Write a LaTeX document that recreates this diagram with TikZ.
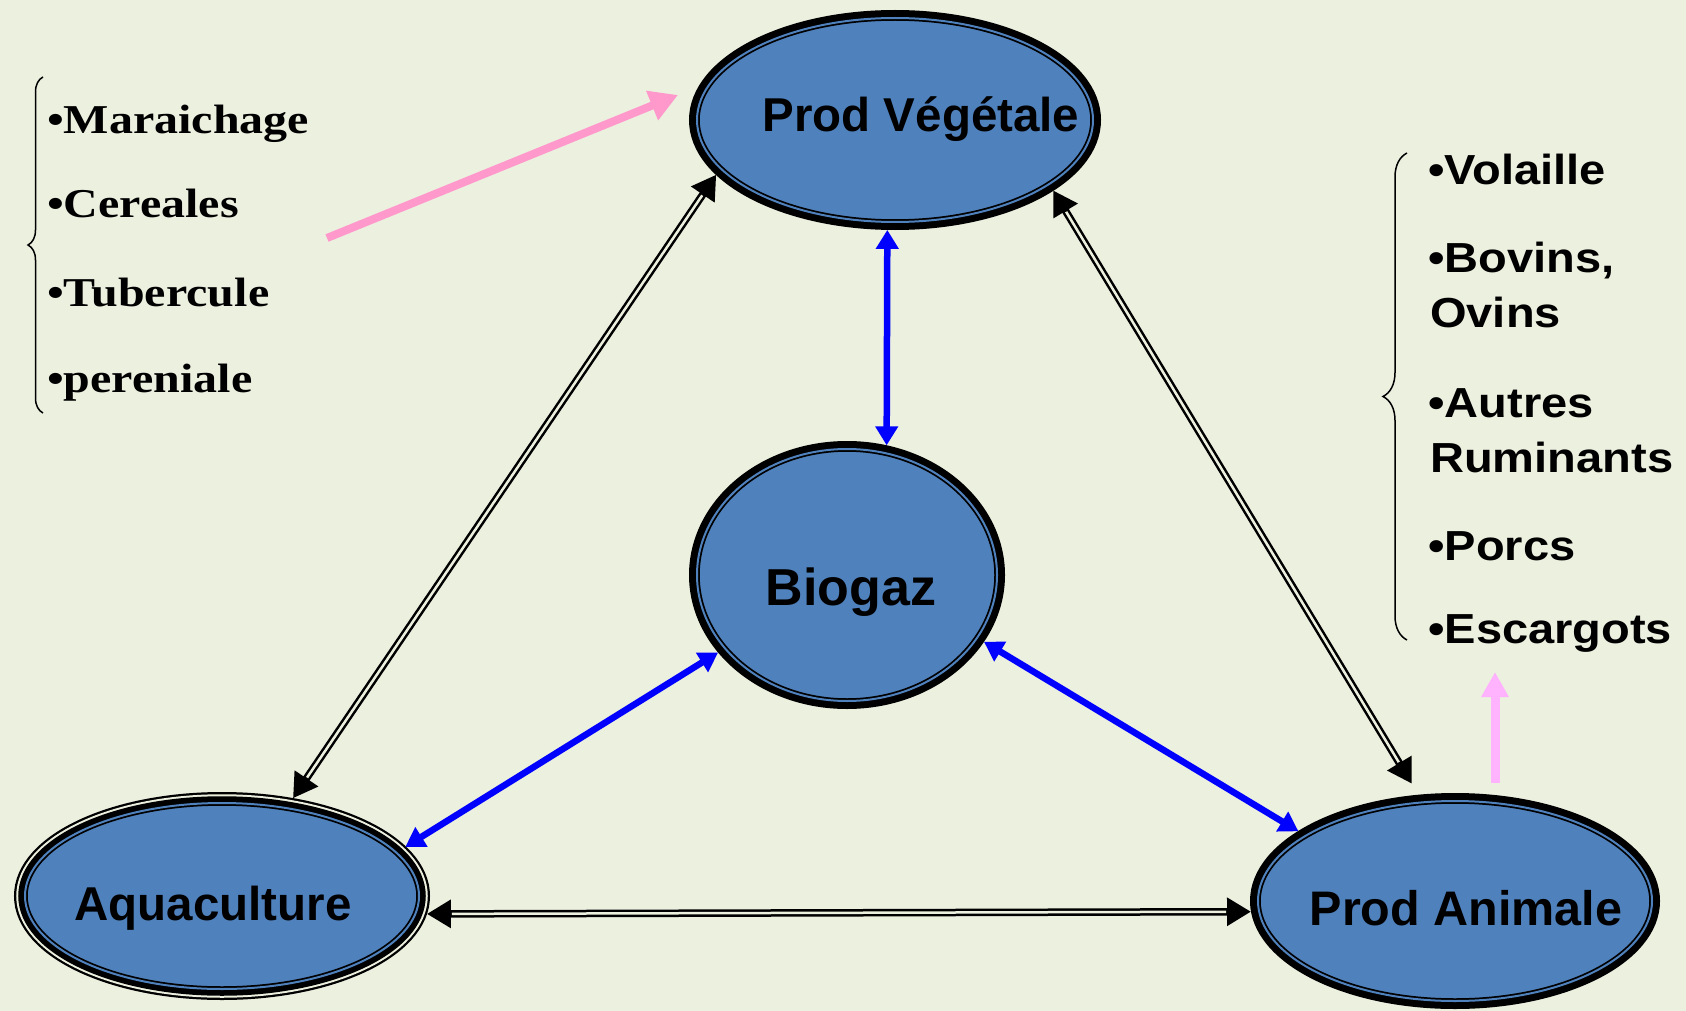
\documentclass[tikz,border=0pt]{standalone}
\usepackage{fontspec}
\setmainfont{Liberation Sans}
\newfontfamily\itemserif[FakeStretch=1.17]{Liberation Serif}
\newfontfamily\itemsans[FakeStretch=1.12]{Liberation Sans}
\usetikzlibrary{shapes.geometric,arrows.meta,decorations.pathreplacing,calc}
\definecolor{bg}{RGB}{236,240,223}
\definecolor{nodeblue}{RGB}{79,129,189}
\definecolor{linkblue}{RGB}{0,0,255}
\definecolor{vegpink}{RGB}{255,153,204}
\definecolor{animpink}{RGB}{255,179,255}

\begin{document}
\begin{tikzpicture}[x=1pt,y=-1pt,
  % ellipse with a heavy outer rim and a fine inner ring
  hub/.style={ellipse, inner sep=0pt, outer sep=8pt, fill=nodeblue,
    draw=black, line width=5.5pt,
    preaction={draw=black, line width=16pt},
    postaction={draw=nodeblue, line width=2pt}},
  % same, with an extra thin outline around the rim
  hubring/.style={ellipse, inner sep=0pt, outer sep=11pt, fill=nodeblue,
    draw=black, line width=5.5pt,
    preaction={draw=black, line width=22pt},
    preaction={draw=bg, line width=17.5pt},
    preaction={draw=black, line width=13.5pt},
    postaction={draw=nodeblue, line width=2pt}},
  hubtext/.style={anchor=base, inner sep=0pt, font=\bfseries\fontsize{47.5}{47.5}\selectfont},
  vegitem/.style={anchor=base west, inner sep=0pt, font=\itemserif\bfseries\fontsize{41}{41}\selectfont},
  animitem/.style={anchor=base west, inner sep=0pt, font=\itemsans\bfseries\fontsize{42}{42}\selectfont},
  rail/.style={draw=black, line width=7.5pt,
    arrows={Triangle[length=24pt,width=27pt]-Triangle[length=24pt,width=27pt]}},
  railgap/.style={draw=bg, line width=2.5pt, shorten <=25pt, shorten >=25pt},
  link/.style={draw=linkblue, line width=6.5pt,
    arrows={Triangle[length=19pt,width=22pt]-Triangle[length=19pt,width=22pt]}},
  vegarrow/.style={draw=vegpink, line width=8pt, arrows={-Triangle[length=28pt,width=30pt]}},
  animarrow/.style={draw=animpink, line width=9pt, arrows={-Triangle[length=25pt,width=26pt]}},
  bracket/.style={draw=black, line width=1.5pt, decorate}
]
\useasboundingbox (0,0) rectangle (1686,1011);
\fill[bg] (0,0) rectangle (1686,1011);

% the four production units
\node[hub, minimum width=396pt, minimum height=204pt] (pv) at (895,120) {};
\node[hub, minimum width=300pt, minimum height=252pt] (bio) at (847,575) {};
\node[hubring, minimum width=394pt, minimum height=186pt] (aq) at (222,896) {};
\node[hub, minimum width=394pt, minimum height=200pt] (pa) at (1455,901) {};

\node[hubtext] (pvtext) at (921,132) {Prod Végétale};
\node[hubtext, font=\bfseries\fontsize{52}{52}\selectfont] (biotext) at (851,605) {Biogaz};
\node[hubtext] (aqtext) at (213,920) {Aquaculture};
\node[hubtext, font=\bfseries\fontsize{48.5}{48.5}\selectfont] (patext) at (1466,925) {Prod Animale};

% exchanges between the production units
\coordinate (paTop) at ($(pa.109)!13pt!(pv.-24)$);
\draw[rail] (pv.197) -- (aq.54);
\draw[railgap] (pv.197) -- (aq.54);
\draw[rail] (pv.-24) -- (paTop);
\draw[railgap] (pv.-24) -- (paTop);
\draw[rail] (aq.355) -- (pa.183);
\draw[railgap] (aq.355) -- (pa.183);

% biogas links
\draw[link] (pv.266) -- (bio.73);
\draw[link] (bio.211) -- (aq.15);
\draw[link] (bio.-26) -- (pa.156);

% crop list
\draw[bracket, decoration={brace, amplitude=15pt}] (43,413) -- (43,77);
\node[vegitem] (veg1) at (47,134) {•Maraichage};
\node[vegitem] (veg2) at (47,218) {•Cereales};
\node[vegitem] (veg3) at (47,306) {•Tubercule};
\node[vegitem] (veg4) at (47,392) {•pereniale};
\coordinate (vegTail) at (327,238);
\coordinate (vegHead) at (678,95);
\draw[vegarrow] (vegTail) -- (vegHead);

% livestock list
\draw[bracket, decoration={brace, amplitude=24pt}] (1407,640) -- (1407,153);
\node[animitem] (ani1) at (1428,185) {•Volaille};
\node[animitem] (ani2) at (1428,272) {•Bovins,};
\node[animitem] (ani2b) at (1430,327) {Ovins};
\node[animitem] (ani3) at (1428,417) {•Autres};
\node[animitem] (ani3b) at (1430,472) {Ruminants};
\node[animitem] (ani4) at (1428,560) {•Porcs};
\node[animitem] (ani5) at (1428,643) {•Escargots};
\coordinate (aniTail) at (1495,783);
\coordinate (aniHead) at (1495,672);
\draw[animarrow] (aniTail) -- (aniHead);
\end{tikzpicture}
\end{document}
